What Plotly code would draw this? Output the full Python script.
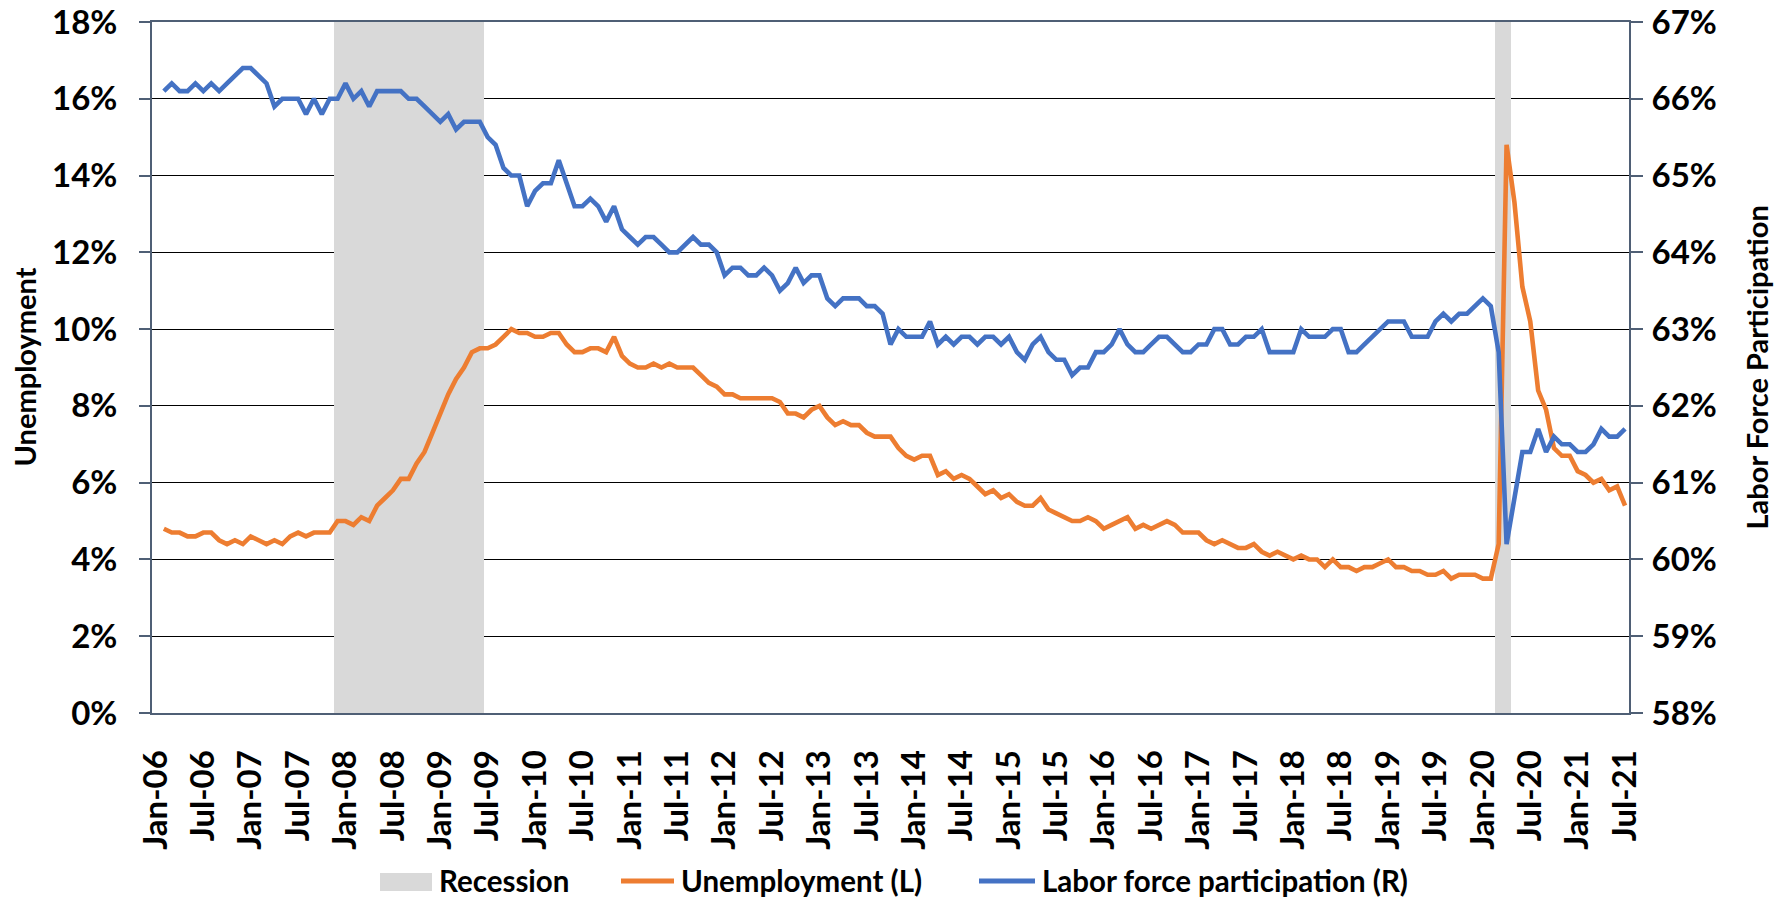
import pandas as pd
import plotly.graph_objects as go

# ---------------- data ----------------
months = [d.strftime("%b-%y") for d in pd.date_range("2006-01-01", "2021-07-01", freq="MS")]

unemployment = [
    None, 4.8, 4.7, 4.7, 4.6, 4.6, 4.7, 4.7, 4.5, 4.4, 4.5, 4.4,   # 2006
    4.6, 4.5, 4.4, 4.5, 4.4, 4.6, 4.7, 4.6, 4.7, 4.7, 4.7, 5.0,    # 2007
    5.0, 4.9, 5.1, 5.0, 5.4, 5.6, 5.8, 6.1, 6.1, 6.5, 6.8, 7.3,    # 2008
    7.8, 8.3, 8.7, 9.0, 9.4, 9.5, 9.5, 9.6, 9.8, 10.0, 9.9, 9.9,   # 2009
    9.8, 9.8, 9.9, 9.9, 9.6, 9.4, 9.4, 9.5, 9.5, 9.4, 9.8, 9.3,    # 2010
    9.1, 9.0, 9.0, 9.1, 9.0, 9.1, 9.0, 9.0, 9.0, 8.8, 8.6, 8.5,    # 2011
    8.3, 8.3, 8.2, 8.2, 8.2, 8.2, 8.2, 8.1, 7.8, 7.8, 7.7, 7.9,    # 2012
    8.0, 7.7, 7.5, 7.6, 7.5, 7.5, 7.3, 7.2, 7.2, 7.2, 6.9, 6.7,    # 2013
    6.6, 6.7, 6.7, 6.2, 6.3, 6.1, 6.2, 6.1, 5.9, 5.7, 5.8, 5.6,    # 2014
    5.7, 5.5, 5.4, 5.4, 5.6, 5.3, 5.2, 5.1, 5.0, 5.0, 5.1, 5.0,    # 2015
    4.8, 4.9, 5.0, 5.1, 4.8, 4.9, 4.8, 4.9, 5.0, 4.9, 4.7, 4.7,    # 2016
    4.7, 4.5, 4.4, 4.5, 4.4, 4.3, 4.3, 4.4, 4.2, 4.1, 4.2, 4.1,    # 2017
    4.0, 4.1, 4.0, 4.0, 3.8, 4.0, 3.8, 3.8, 3.7, 3.8, 3.8, 3.9,    # 2018
    4.0, 3.8, 3.8, 3.7, 3.7, 3.6, 3.6, 3.7, 3.5, 3.6, 3.6, 3.6,    # 2019
    3.5, 3.5, 4.4, 14.8, 13.3, 11.1, 10.2, 8.4, 7.9, 6.9, 6.7, 6.7,  # 2020
    6.3, 6.2, 6.0, 6.1, 5.8, 5.9, 5.4,                             # 2021
]

participation = [
    None, 66.1, 66.2, 66.1, 66.1, 66.2, 66.1, 66.2, 66.1, 66.2, 66.3, 66.4,  # 2006
    66.4, 66.3, 66.2, 65.9, 66.0, 66.0, 66.0, 65.8, 66.0, 65.8, 66.0, 66.0,  # 2007
    66.2, 66.0, 66.1, 65.9, 66.1, 66.1, 66.1, 66.1, 66.0, 66.0, 65.9, 65.8,  # 2008
    65.7, 65.8, 65.6, 65.7, 65.7, 65.7, 65.5, 65.4, 65.1, 65.0, 65.0, 64.6,  # 2009
    64.8, 64.9, 64.9, 65.2, 64.9, 64.6, 64.6, 64.7, 64.6, 64.4, 64.6, 64.3,  # 2010
    64.2, 64.1, 64.2, 64.2, 64.1, 64.0, 64.0, 64.1, 64.2, 64.1, 64.1, 64.0,  # 2011
    63.7, 63.8, 63.8, 63.7, 63.7, 63.8, 63.7, 63.5, 63.6, 63.8, 63.6, 63.7,  # 2012
    63.7, 63.4, 63.3, 63.4, 63.4, 63.4, 63.3, 63.3, 63.2, 62.8, 63.0, 62.9,  # 2013
    62.9, 62.9, 63.1, 62.8, 62.9, 62.8, 62.9, 62.9, 62.8, 62.9, 62.9, 62.8,  # 2014
    62.9, 62.7, 62.6, 62.8, 62.9, 62.7, 62.6, 62.6, 62.4, 62.5, 62.5, 62.7,  # 2015
    62.7, 62.8, 63.0, 62.8, 62.7, 62.7, 62.8, 62.9, 62.9, 62.8, 62.7, 62.7,  # 2016
    62.8, 62.8, 63.0, 63.0, 62.8, 62.8, 62.9, 62.9, 63.0, 62.7, 62.7, 62.7,  # 2017
    62.7, 63.0, 62.9, 62.9, 62.9, 63.0, 63.0, 62.7, 62.7, 62.8, 62.9, 63.0,  # 2018
    63.1, 63.1, 63.1, 62.9, 62.9, 62.9, 63.1, 63.2, 63.1, 63.2, 63.2, 63.3,  # 2019
    63.4, 63.3, 62.7, 60.2, 60.8, 61.4, 61.4, 61.7, 61.4, 61.6, 61.5, 61.5,  # 2020
    61.4, 61.4, 61.5, 61.7, 61.6, 61.6, 61.7,                                # 2021
]

recession_periods = [("Dec-07", "Jun-09"), ("Mar-20", "Apr-20")]
recession_height = 18

tick_labels = months[::6]
left_ticks = [0, 2, 4, 6, 8, 10, 12, 14, 16, 18]
right_ticks = [58, 59, 60, 61, 62, 63, 64, 65, 66, 67]

series_names = ["Recession", "Unemployment (L)", "Labor force participation (R)"]

# recession bar values
recession = [0] * len(months)
for start, end in recession_periods:
    i0, i1 = months.index(start), months.index(end)
    for i in range(i0, i1 + 1):
        recession[i] = recession_height

# ---------------- style ----------------
FONT = "Lato"
AXIS_COLOR = "#4F5F75"
ORANGE = "#ED7D31"
BLUE = "#4472C4"
GREY = "#D9D9D9"
W, H = 1779, 898
ML, MR, MT, MB = 152, 150, 22, 185
PW, PH = W - ML - MR, H - MT - MB


def px(xw):
    """window x (pixels) -> paper fraction"""
    return (xw - ML) / PW


def py(yw):
    """window y (pixels) -> paper fraction"""
    return (H - MB - yw) / PH


fig = go.Figure()
fig.add_trace(go.Bar(
    x=months, y=recession, name=series_names[0], marker=dict(color=GREY, line=dict(width=0)),
    width=1.0, yaxis="y", hoverinfo="skip", showlegend=False,
))
fig.add_trace(go.Scatter(
    x=months, y=unemployment, name=series_names[1], mode="lines",
    line=dict(color=ORANGE, width=4.6), yaxis="y", showlegend=False,
))
fig.add_trace(go.Scatter(
    x=months, y=participation, name=series_names[2], mode="lines",
    line=dict(color=BLUE, width=4.6), yaxis="y2", showlegend=False,
))

tickfont = dict(family=FONT, size=33, color="#000000", weight="bold")
legfont = dict(family=FONT, size=29.5, color="#000000", weight="bold")
titlefont = dict(family=FONT, size=29, color="#000000", weight="bold")

# legend drawn manually (Excel-style wide swatches)
LEG_Y = 881
shapes = [
    dict(type="rect", xref="paper", yref="paper", x0=px(380), x1=px(432),
         y0=py(891), y1=py(873), fillcolor=GREY, line=dict(width=0), layer="above"),
    dict(type="line", xref="paper", yref="paper", x0=px(621), x1=px(674),
         y0=py(LEG_Y), y1=py(LEG_Y), line=dict(color=ORANGE, width=5), layer="above"),
    dict(type="line", xref="paper", yref="paper", x0=px(979), x1=px(1035),
         y0=py(LEG_Y), y1=py(LEG_Y), line=dict(color=BLUE, width=5), layer="above"),
]
legend_text_x = [437, 679, 1040]

annotations = [
    dict(text="Unemployment", xref="paper", yref="paper",
         x=px(24), y=0.5, xanchor="center", yanchor="middle",
         textangle=-90, showarrow=False, font=titlefont),
    dict(text="Labor Force Participation", xref="paper", yref="paper",
         x=px(1756), y=0.5, xanchor="center", yanchor="middle",
         textangle=-90, showarrow=False, font=titlefont),
]
for name, tx in zip(series_names, legend_text_x):
    annotations.append(dict(text=name, xref="paper", yref="paper", x=px(tx), y=py(LEG_Y),
                            xanchor="left", yanchor="middle", showarrow=False, font=legfont))

fig.update_layout(
    width=W, height=H,
    margin=dict(l=ML, r=MR, t=MT, b=MB, autoexpand=False),
    paper_bgcolor="white", plot_bgcolor="white",
    font=dict(family=FONT, color="#000000", weight="bold"),
    bargap=0, barmode="overlay",
    showlegend=False,
    xaxis=dict(
        type="category", categoryorder="array", categoryarray=months,
        range=[-0.5, len(months) - 0.5],
        tickmode="array", tickvals=tick_labels, ticktext=tick_labels,
        tickangle=-90, tickfont=tickfont, ticks="", ticklabelstandoff=22,
        ticklabeloverflow="allow",
        showline=True, linecolor=AXIS_COLOR, linewidth=2, mirror=True,
        showgrid=False, zeroline=False, automargin=False,
    ),
    yaxis=dict(
        range=[0, 18], tickmode="array", tickvals=left_ticks,
        ticktext=[f"{v}%" for v in left_ticks], tickfont=tickfont,
        ticks="outside", ticklen=11, tickwidth=2, tickcolor=AXIS_COLOR,
        ticklabelstandoff=15, automargin=False, ticklabeloverflow="allow",
        showline=True, linecolor=AXIS_COLOR, linewidth=2,
        showgrid=True, gridcolor="#000000", gridwidth=1.4, zeroline=False,
    ),
    yaxis2=dict(
        range=[58, 67], overlaying="y", side="right", tickmode="array",
        tickvals=right_ticks, ticktext=[f"{v}%" for v in right_ticks], tickfont=tickfont,
        ticks="outside", ticklen=12, tickwidth=2, tickcolor=AXIS_COLOR,
        ticklabelstandoff=2, automargin=False, ticklabeloverflow="allow",
        showline=True, linecolor=AXIS_COLOR, linewidth=2,
        showgrid=False, zeroline=False,
    ),
    shapes=shapes,
    annotations=annotations,
)

# remove the browser's default 8px body margin so the figure fills the window exactly
fig.write_html(
    "out.html",
    config={"displayModeBar": False},
    post_script="document.body.style.margin='0px'; document.body.style.overflow='hidden';",
)
